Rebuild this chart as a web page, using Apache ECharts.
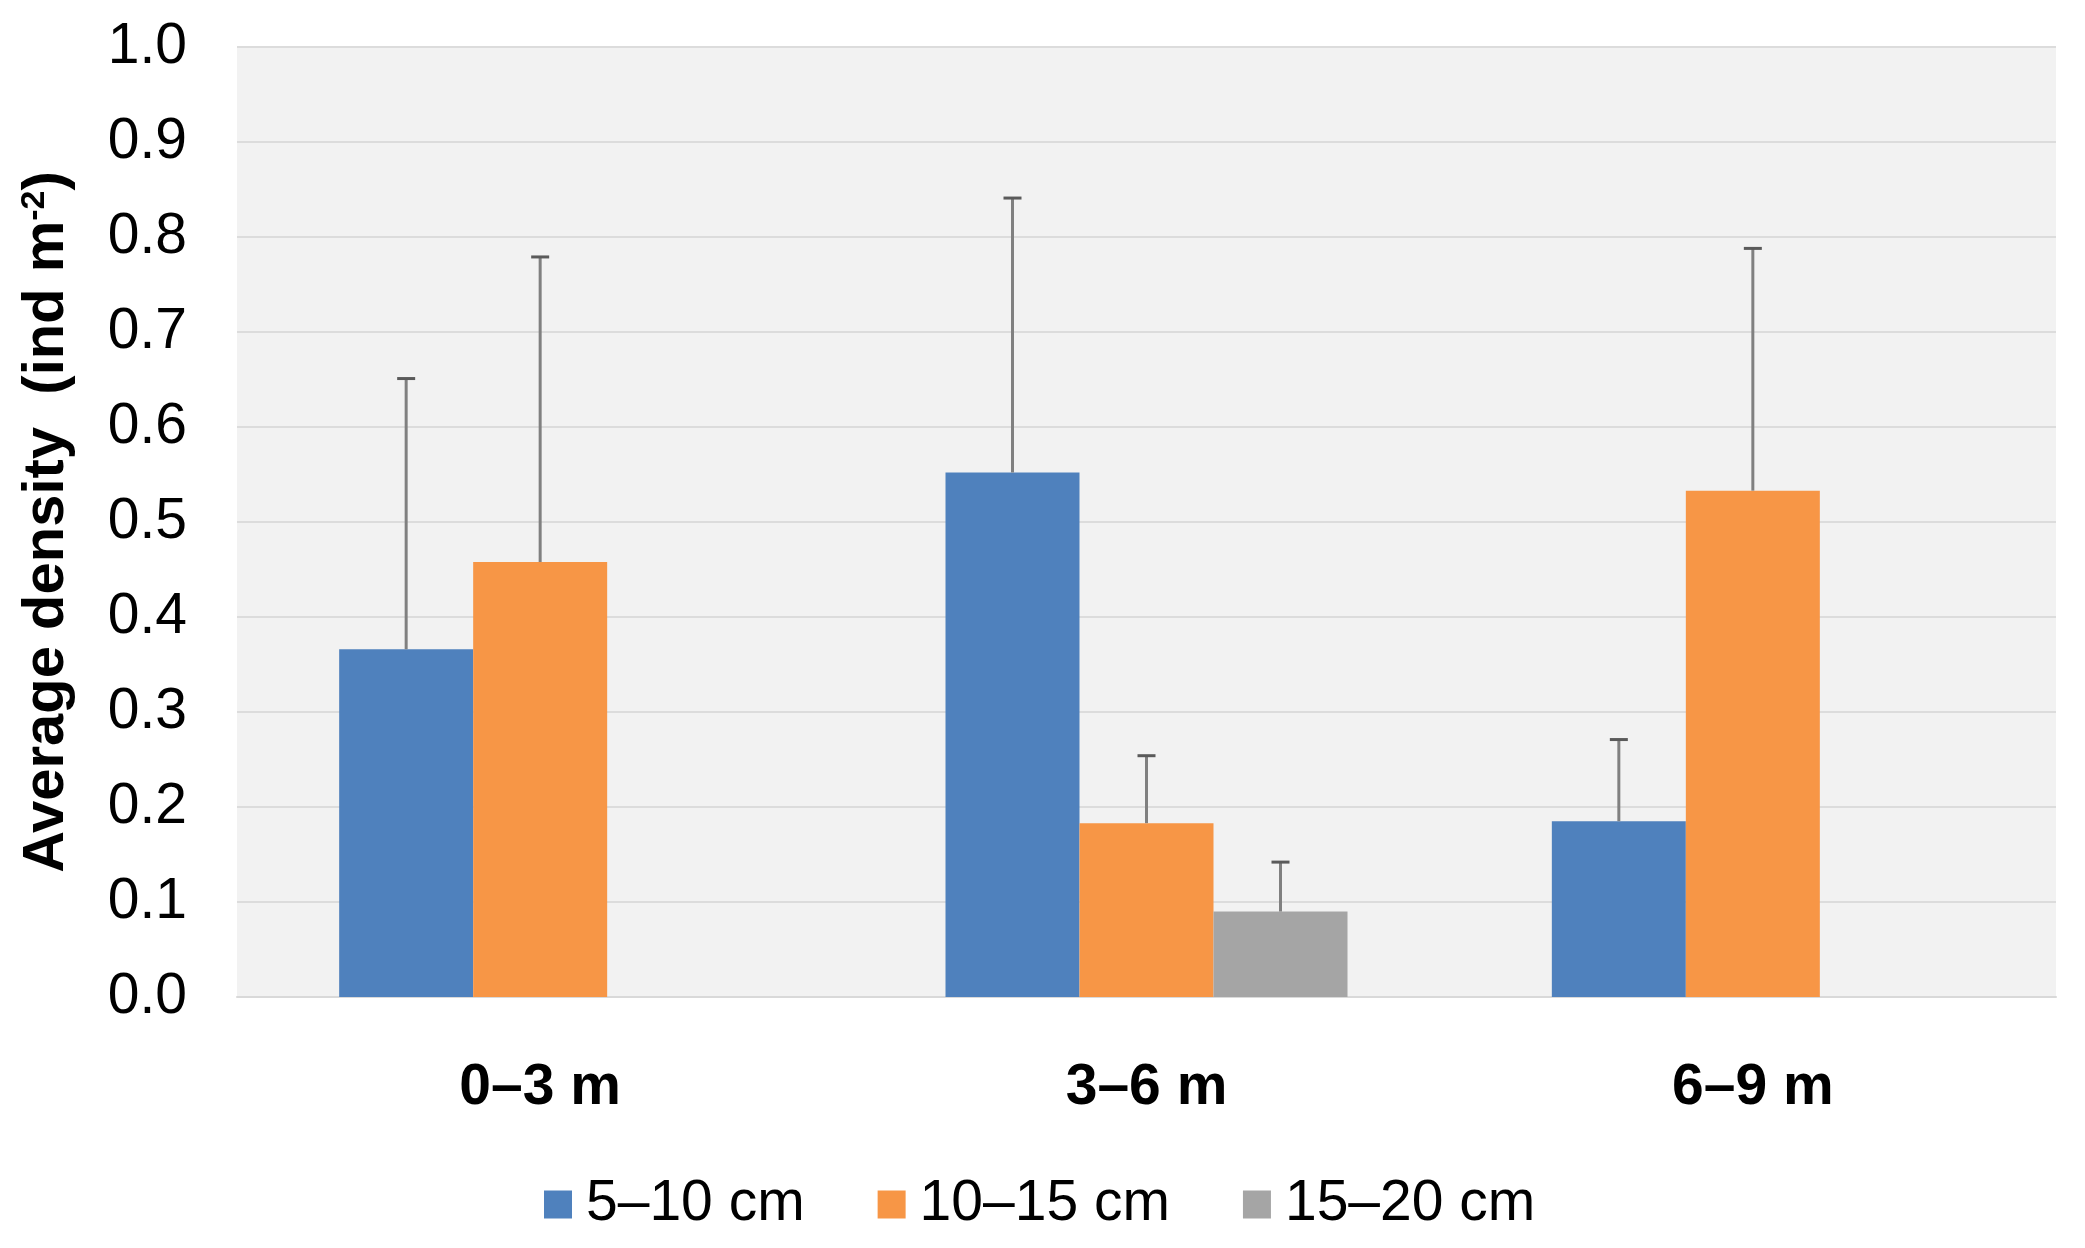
<!DOCTYPE html>
<html>
<head>
<meta charset="utf-8">
<script src="https://cdn.jsdelivr.net/npm/echarts@6/dist/echarts.min.js"></script>
<style>
  html, body { margin: 0; padding: 0; background: #ffffff; }
  #chart { width: 2085px; height: 1248px; }
</style>
</head>
<body>
<div id="chart"></div>
<script>
const categories = ['0–3 m', '3–6 m', '6–9 m'];
const seriesNames = ['5–10 cm', '10–15 cm', '15–20 cm'];
const density510 = [0.366, 0.552, 0.185];
const density1015 = [0.458, 0.183, 0.533];
const density1520 = [null, 0.090, null];
const err510 = [0.285, 0.289, 0.086];
const err1015 = [0.321, 0.071, 0.255];
const err1520 = [null, 0.052, null];
const colors = ['#4f81bd', '#f79646', '#a5a5a5'];

const FONT = "'Liberation Sans', Arial, sans-serif";
const CAT_GAP = 0.337;
const values = [density510, density1015, density1520];
const errors = [err510, err1015, err1520];

const chart = echarts.init(document.getElementById('chart'), null, { renderer: 'canvas' });

const barSeries = seriesNames.map((name, k) => ({
  name: name,
  type: 'bar',
  data: values[k],
  barGap: '0%',
  barCategoryGap: (CAT_GAP * 100) + '%',
  itemStyle: { color: colors[k] },
  z: 2
}));

const errSeries = seriesNames.map((name, k) => ({
  type: 'custom',
  coordinateSystem: 'cartesian2d',
  z: 5,
  silent: true,
  data: values[k].map((v, i) => (v == null ? null : [i, v, errors[k][i]])).filter(d => d),
  encode: { x: 0, y: 1 },
  renderItem: function (params, api) {
    const ci = api.value(0), v = api.value(1), e = api.value(2);
    const base = api.coord([ci, v]);
    const top = api.coord([ci, v + e]);
    const band = api.size([1, 0])[0];
    const bw = band * (1 - CAT_GAP) / 3;
    const x = base[0] + (k - 1) * bw;
    return {
      type: 'group',
      children: [
        { type: 'line', shape: { x1: x, y1: base[1], x2: x, y2: top[1] },
          style: { stroke: '#808080', lineWidth: 3 } },
        { type: 'line', shape: { x1: x - 9, y1: top[1], x2: x + 9, y2: top[1] },
          style: { stroke: '#5a5a5a', lineWidth: 3 } }
      ]
    };
  }
}));

chart.setOption({
  animation: false,
  backgroundColor: '#ffffff',
  textStyle: { fontFamily: FONT },
  grid: {
    left: 237, right: 29, top: 47, bottom: 251,
    show: true, backgroundColor: '#f2f2f2', borderWidth: 0,
    outerBoundsMode: 'none'
  },
  legend: {
    data: seriesNames,
    left: 539, top: 1171,
    icon: 'rect',
    itemWidth: 28, itemHeight: 28,
    itemGap: 73,
    textStyle: { fontSize: 57, color: '#000', fontFamily: FONT, padding: [0, 0, 0, 9] }
  },
  xAxis: {
    type: 'category',
    data: categories,
    axisLine: { show: true, lineStyle: { color: '#d9d9d9', width: 2 } },
    axisTick: { show: false },
    splitLine: { show: false },
    axisLabel: { fontSize: 57, fontWeight: 'bold', color: '#000', margin: 63, fontFamily: FONT }
  },
  yAxis: {
    type: 'value',
    min: 0, max: 1, interval: 0.1,
    axisLine: { show: false },
    axisTick: { show: false },
    splitLine: { show: true, lineStyle: { color: '#dcdcdc', width: 2 } },
    axisLabel: { fontSize: 57, color: '#000', margin: 50, fontFamily: FONT,
      formatter: v => v.toFixed(1) },
    name: 'Average density  (ind m{sup|-2})',
    nameLocation: 'middle',
    nameRotate: 90,
    nameGap: 161,
    nameTextStyle: {
      fontSize: 58, fontWeight: 'bold', color: '#000', fontFamily: FONT,
      rich: { sup: { fontSize: 34, fontWeight: 'bold', color: '#000', fontFamily: FONT, verticalAlign: 'top', padding: [0, 0, 22, 0] } }
    }
  },
  series: barSeries.concat(errSeries)
});
</script>
</body>
</html>
